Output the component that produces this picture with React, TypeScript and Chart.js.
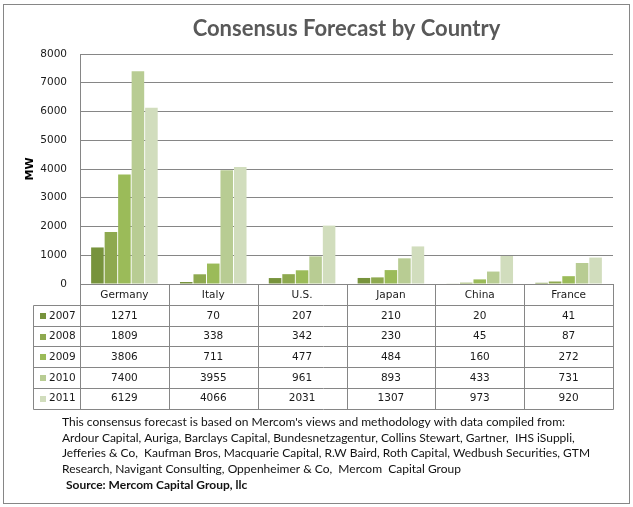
import React, { useEffect, useRef } from "react";
import { Chart, registerables } from "chart.js";

Chart.register(...registerables);

const categories = ["Germany", "Italy", "U.S.", "Japan", "China", "France"];
const years = ["2007", "2008", "2009", "2010", "2011"];
const v2007 = [1271, 70, 207, 210, 20, 41];
const v2008 = [1809, 338, 342, 230, 45, 87];
const v2009 = [3806, 711, 477, 484, 160, 272];
const v2010 = [7400, 3955, 961, 893, 433, 731];
const v2011 = [6129, 4066, 2031, 1307, 973, 920];
const seriesValues = [v2007, v2008, v2009, v2010, v2011];
const seriesColors = ["#77933C", "#8EA94F", "#9BBB59", "#B8CC93", "#D1DDBD"];

const titleText = "Consensus Forecast by Country";
const axisTitle = "MW";
const footnoteLines = [
  "This consensus forecast is based on Mercom's views and methodology with data compiled from:",
  "Ardour Capital, Auriga, Barclays Capital, Bundesnetzagentur, Collins Stewart, Gartner,  IHS iSuppli,",
  "Jefferies & Co,  Kaufman Bros, Macquarie Capital, R.W Baird, Roth Capital, Wedbush Securities, GTM",
  "Research, Navigant Consulting, Oppenheimer & Co,  Mercom  Capital Group",
];
const sourceLine = "Source: Mercom Capital Group, llc";

const W = 633;
const H = 507;
const GRAY = "#868686";

const framePlugin = {
  id: "frameAndTable",
  beforeDraw(chart: any) {
    const ctx = chart.ctx;
    ctx.save();
    ctx.fillStyle = "#ffffff";
    ctx.fillRect(0, 0, W, H);
    ctx.strokeStyle = GRAY;
    ctx.lineWidth = 1;
    ctx.strokeRect(3.5, 4.5, 626, 499);
    ctx.restore();
  },
  afterDraw(chart: any) {
    const ctx = chart.ctx;
    const area = chart.chartArea;
    const xs = chart.scales.x;
    const n = categories.length;
    const colW = (area.right - area.left) / n;
    const top = area.bottom;
    const headerH = 21;
    const rowH = 20.7;
    const legendLeft = 33;
    const bottom = top + headerH + rowH * years.length;
    const cy = (v: number) => Math.round(v) + 0.5;

    ctx.save();
    ctx.strokeStyle = GRAY;
    ctx.lineWidth = 1;
    ctx.beginPath();
    for (let i = 0; i <= n; i++) {
      const x = cy(area.left + i * colW);
      ctx.moveTo(x, top);
      ctx.lineTo(x, cy(bottom));
    }
    ctx.moveTo(cy(legendLeft), cy(top + headerH));
    ctx.lineTo(cy(legendLeft), cy(bottom));
    for (let k = 0; k <= years.length; k++) {
      const y = cy(top + headerH + k * rowH);
      ctx.moveTo(cy(legendLeft), y);
      ctx.lineTo(cy(area.right), y);
    }
    ctx.stroke();

    ctx.font = "10.5px 'DejaVu Sans'";
    ctx.fillStyle = "#1a1a1a";
    ctx.textBaseline = "middle";
    ctx.textAlign = "center";
    categories.forEach((c, i) => {
      ctx.fillText(c, xs.getPixelForValue(i), top + headerH / 2 + 0.5);
    });
    years.forEach((yr, k) => {
      const yMid = top + headerH + k * rowH + rowH / 2 + 0.5;
      ctx.fillStyle = seriesColors[k];
      ctx.fillRect(40, Math.round(yMid) - 3, 6, 6);
      ctx.fillStyle = "#1a1a1a";
      ctx.textAlign = "left";
      ctx.fillText(yr, 49, yMid);
      ctx.textAlign = "center";
      seriesValues[k].forEach((v, i) => {
        ctx.fillText(String(v), xs.getPixelForValue(i), yMid);
      });
    });

    ctx.textAlign = "left";
    ctx.fillStyle = "#111111";
    ctx.font = "12px Lato";
    const maxW = [506, 536, 528, 400];
    footnoteLines.forEach((line, i) => {
      ctx.fillText(line, 62, 422 + i * 15.8, maxW[i]);
    });
    ctx.font = "bold 12px Lato";
    ctx.fillText(sourceLine, 66, 422 + 4 * 15.8, 182);
    ctx.restore();
  },
};

export default function App() {
  const ref = useRef<HTMLCanvasElement | null>(null);

  useEffect(() => {
    document.body.style.margin = "0";
    const canvas = ref.current;
    if (!canvas) return;
    const chart = new Chart(canvas, {
      type: "bar",
      data: {
        labels: categories,
        datasets: years.map((yr, k) => ({
          label: yr,
          data: seriesValues[k],
          backgroundColor: seriesColors[k],
          borderWidth: 0,
          categoryPercentage: 0.76,
          barPercentage: 0.93,
        })),
      },
      options: {
        responsive: false,
        animation: false,
        layout: { padding: { left: 0, right: 20, top: 0, bottom: 223 } },
        plugins: {
          legend: { display: false },
          tooltip: { enabled: false },
          title: {
            display: true,
            text: titleText,
            fullSize: false,
            color: "#595959",
            font: { family: "Lato", size: 22, weight: "bold", lineHeight: 1.2 },
            padding: { top: 16, bottom: 11.6 },
          },
        },
        scales: {
          x: {
            display: false,
          },
          y: {
            min: 0,
            max: 8000,
            afterFit(scale: any) {
              scale.width = 80;
            },
            ticks: {
              stepSize: 1000,
              padding: 13,
              color: "#1a1a1a",
              font: { family: "DejaVu Sans", size: 10.5 },
              callback: (value: any) => String(value),
            },
            grid: { color: GRAY, drawTicks: false, lineWidth: 1 },
            border: { display: true, color: GRAY },
            title: {
              display: true,
              text: axisTitle,
              color: "#000000",
              font: { family: "DejaVu Sans", size: 11, weight: "bold", lineHeight: 1.2 },
              padding: { top: 23.4, bottom: 0 },
            },
          },
        },
      },
      plugins: [framePlugin],
    });
    return () => chart.destroy();
  }, []);

  return (
    <div style={{ position: "absolute", left: 0, top: 0, width: W, height: H }}>
      <canvas ref={ref} width={W} height={H} style={{ display: "block" }} />
    </div>
  );
}
